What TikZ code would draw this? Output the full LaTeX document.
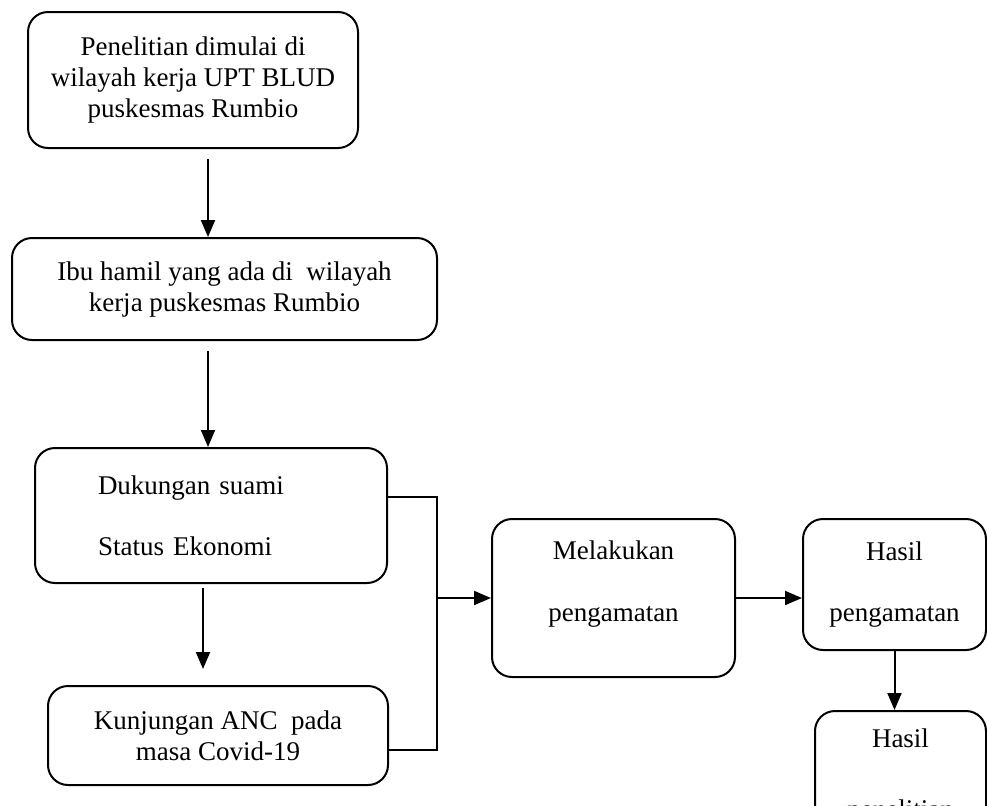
\documentclass[tikz,border=0pt]{standalone}
\usepackage{fontspec}
\setmainfont{Liberation Serif}
\usetikzlibrary{arrows.meta}
\begin{document}
\begin{tikzpicture}[x=.5pt,y=-.5pt,line width=1pt,>={Triangle[length=8.5pt,width=7pt]},
  font=\fontsize{13.5pt}{15.5pt}\selectfont,
  box/.style={draw,rounded corners=10pt,align=center,inner sep=0pt}]
\useasboundingbox (0,0) rectangle (987,805);
\clip (0,0) rectangle (987,805);
\node[box,minimum width=165pt,minimum height=68pt] (mulai) at (193,80) {Penelitian dimulai di\\wilayah kerja UPT BLUD\\puskesmas Rumbio};
\node[box,minimum width=212.5pt,minimum height=51pt] (ibu) at (224.5,289) {Ibu hamil yang ada di~ wilayah\\kerja puskesmas Rumbio};
\node[box,align=left,text width=113pt,inner xsep=31.5pt,minimum height=67.5pt] (faktor) at (211,515.5) {Dukungan suami\\[15pt]Status Ekonomi};
\node[box,minimum width=170pt,minimum height=49.5pt] (anc) at (218,735.5) {Kunjungan ANC~ pada\\masa Covid-19};
\node[box,minimum width=121.5pt,minimum height=79pt,label={[align=center,yshift=7pt]center:Melakukan\\[15.5pt]pengamatan}] (amat) at (613.5,598) {};
\node[box,minimum width=91.5pt,minimum height=65.5pt] (hasil) at (894.5,584.5) {Hasil\\[15pt]pengamatan};
\node[box,minimum width=85.5pt,minimum height=65.5pt] (teliti) at (900.5,776.5) {Hasil\\[20pt]penelitian};
% arrows down the left column
\coordinate (a1) at ([xshift=7.5pt,yshift=-5pt]mulai.south);
\draw[->] (a1) -- (a1 |- ibu.north);
\coordinate (a2) at ([xshift=-8.25pt,yshift=-5pt]ibu.south);
\draw[->] (a2) -- (a2 |- faktor.north);
\coordinate (a3) at ([xshift=-4pt,yshift=-2pt]faktor.south);
\coordinate (a3e) at ([yshift=8pt]anc.north);
\draw[->] (a3) -- (a3 |- a3e);
% bracket joining both boxes
\coordinate (busT) at ([yshift=9.25pt]faktor.east);
\coordinate (busB) at ([yshift=-7.25pt]anc.east);
\coordinate (bus) at ([xshift=24.5pt]busT);
\draw (busT) -- (bus) |- (busB);
\draw[->] (bus |- amat.west) -- (amat.west);
\draw[->] (amat.east) -- (amat.east -| hasil.west);
\draw[->] (hasil.south) -- (hasil.south |- teliti.north);
\end{tikzpicture}
\end{document}
